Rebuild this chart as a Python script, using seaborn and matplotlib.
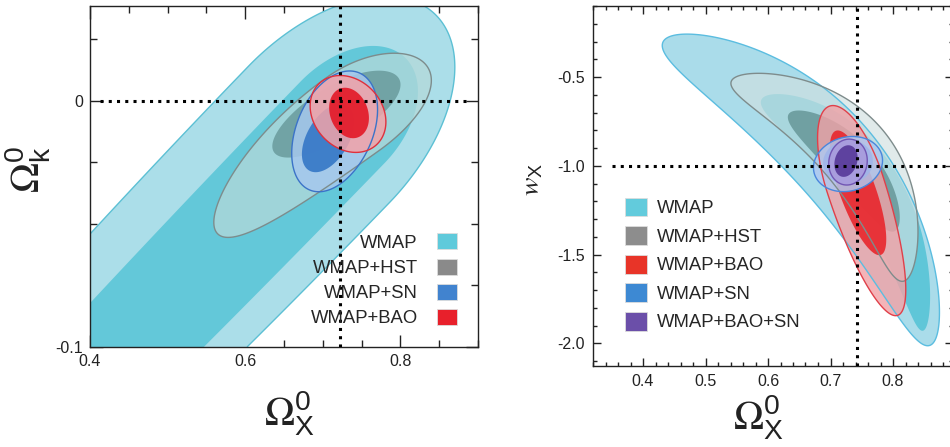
import numpy as np
import matplotlib
matplotlib.use("Agg")
import matplotlib.pyplot as plt
import seaborn as sns
from matplotlib.patches import Patch
from matplotlib.ticker import MultipleLocator, FixedLocator, FormatStrFormatter

# ---------------- left panel: Omega_k vs Omega_X ----------------
left_names = ["WMAP", "WMAP+HST", "WMAP+SN", "WMAP+BAO"]
# 95% regions: centre, far tip (data), back length / width / bend as ratios of centre->tip
left_cx95 = [0.6951, 0.7389, 0.7157, 0.7325]
left_cy95 = [-0.01358, -0.00528, -0.01179, -0.00528]
left_tx95 = [0.8447, 0.8312, 0.7469, 0.7693]
left_ty95 = [0.03524, 0.01549, 0.01142, -0.01776]
left_back95 = [6.0, 2.045, 1.05, 1.0]
left_width95 = [0.587, 0.511, 0.613, 0.81]
left_bend95 = [0.0, 0.0466, 0.0, 0.0]
# 68% regions
left_cx68 = [0.7254, 0.7247, 0.7067, 0.7338]
left_cy68 = [-0.00870, -0.00366, -0.01504, -0.00488]
left_tx68 = [0.8061, 0.7973, 0.7309, 0.7452]
left_ty68 = [0.01760, 0.00955, -0.00179, -0.0148]
left_back68 = [11.1, 1.23, 1.0, 1.0]
left_width68 = [0.65, 0.415, 0.556, 0.73]
left_bend68 = [0.0, 0.02, 0.0, 0.0]
left_ref_x = 0.722
left_ref_y = 0.0
left_hline_span = [0.413, 0.886]
left_xticks = [0.4, 0.6, 0.8]
left_yticks = [-0.1, 0.0]
left_yticklabels = ["-0.1", "0"]

# ---------------- right panel: w_X vs Omega_X ----------------
right_names = ["WMAP", "WMAP+HST", "WMAP+BAO", "WMAP+SN", "WMAP+BAO+SN"]
right_cx95 = [0.6928, 0.7392, 0.7392, 0.7280, 0.7280]
right_cy95 = [-0.9059, -0.9285, -1.1031, -0.9904, -0.9792]
right_tx95 = [0.9274, 0.8730, 0.8074, 0.7821, 0.7344]
right_ty95 = [-1.7915, -1.4896, -1.8428, -0.9392, -0.8513]
right_back95 = [0.884, 1.04, 0.594, 1.0, 1.0]
right_width95 = [0.2047, 0.277, 0.21, 0.77, 0.83]
right_bend95 = [0.256, 0.322, 0.0, 0.0, 0.0]
right_cx68 = [0.7328, 0.7360, 0.7424, 0.7280, 0.7248]
right_cy68 = [-0.9623, -0.9904, -1.1313, -0.9792, -0.9735]
right_tx68 = [0.9238, 0.8195, 0.7806, 0.7674, 0.7321]
right_ty68 = [-1.6828, -1.3172, -1.5020, -0.9549, -0.8862]
right_back68 = [0.6, 1.03, 0.886, 1.0, 1.0]
right_width68 = [0.16, 0.282, 0.257, 0.88, 0.69]
right_bend68 = [0.36, 0.156, 0.0, 0.0, 0.0]
right_ref_x = 0.742
right_ref_y = -1.0
right_hline_span = [0.35, 0.896]

# colours
left_fill95 = ["#abdee9", "#b4d9d9", "#a6c8ee", "#f2a3a8"]
left_alpha95 = [1.0, 0.75, 0.85, 0.85]
left_fill68 = ["#63c8d9", "#6c9ea0", "#3a7bc8", "#e31e2c"]
left_alpha68 = [1.0, 0.9, 0.95, 0.95]
left_edge = ["#5cc0d4", "#7d8c8c", "#3b73c8", "#e0303c"]
left_legend_colors = ["#5fcadb", "#8a8a8a", "#4183cf", "#e8202b"]

right_fill95 = ["#aadcea", "#d0e0e0", "#f2a2a6", "#afc8f0", "#a99bdc"]
right_alpha95 = [1.0, 0.65, 0.8, 0.85, 0.9]
right_fill68 = ["#5fc6d8", "#6a9a9c", "#e8262c", "#9fb5ea", "#5a3d9c"]
right_alpha68 = [1.0, 0.9, 0.9, 0.85, 0.95]
right_edge = ["#5bbde0", "#7e8c8c", "#e0404a", "#4a86dc", "#7256b4"]
right_legend_colors = ["#62cbdc", "#8d8d8d", "#e83428", "#3d89d3", "#6b4fa9"]


def region(ax, cx, cy, tx, ty, back, width, bend, fill, alpha, edge=None):
    # filled confidence region: half-ellipses joined at the centre, optionally bent
    x0, x1 = ax.get_xlim()
    y0, y1 = ax.get_ylim()
    X, Y = np.meshgrid(np.linspace(x0, x1, 700), np.linspace(y0, y1, 700))
    pts = ax.transData.transform(np.column_stack([X.ravel(), Y.ravel()]))
    c = ax.transData.transform((cx, cy))
    t = ax.transData.transform((tx, ty))
    d = t - c
    L = np.hypot(d[0], d[1])
    u = d / L
    n = np.array([-u[1], u[0]])
    rel = pts - c
    p = rel @ u
    q = rel @ n + bend * p ** 2 / L
    a = np.where(p >= 0, L, back * L)
    r = ((p / a) ** 2 + (q / (width * L)) ** 2).reshape(X.shape)
    ax.contourf(X, Y, r, levels=[0, 1], colors=[fill], alpha=alpha, antialiased=True)
    if edge is not None:
        ax.contour(X, Y, r, levels=[1], colors=[edge], linewidths=1.0)


sns.set_theme(style="ticks")
plt.rcParams["font.family"] = ["Liberation Sans", "DejaVu Sans"]
plt.rcParams["mathtext.fontset"] = "stix"
plt.rcParams["axes.unicode_minus"] = False

fig = plt.figure(figsize=(9.5, 4.47), dpi=100)
axL = fig.add_axes([90 / 950, 100 / 447, 388 / 950, 341 / 447])
axR = fig.add_axes([593 / 950, 81 / 447, 360 / 950, 360 / 447])

axL.set_xlim(0.4, 0.9)
axL.set_ylim(-0.1, 0.0386)
axR.set_xlim(0.32, 0.896)
axR.set_ylim(-2.128, -0.1)

for i in range(len(left_names)):
    region(axL, left_cx95[i], left_cy95[i], left_tx95[i], left_ty95[i], left_back95[i],
           left_width95[i], left_bend95[i], left_fill95[i], left_alpha95[i], left_edge[i])
    region(axL, left_cx68[i], left_cy68[i], left_tx68[i], left_ty68[i], left_back68[i],
           left_width68[i], left_bend68[i], left_fill68[i], left_alpha68[i])

for i in range(len(right_names)):
    region(axR, right_cx95[i], right_cy95[i], right_tx95[i], right_ty95[i], right_back95[i],
           right_width95[i], right_bend95[i], right_fill95[i], right_alpha95[i], right_edge[i])
    region(axR, right_cx68[i], right_cy68[i], right_tx68[i], right_ty68[i], right_back68[i],
           right_width68[i], right_bend68[i], right_fill68[i], right_alpha68[i])

dots = dict(color="black", lw=2.2, linestyle=(0, (1, 1.7)), dash_capstyle="butt", zorder=5)
axL.axvline(left_ref_x, **dots)
axL.plot(left_hline_span, [left_ref_y, left_ref_y], **dots)
axR.axvline(right_ref_x, **dots)
axR.plot(right_hline_span, [right_ref_y, right_ref_y], **dots)

# ticks
axL.xaxis.set_major_locator(FixedLocator(left_xticks))
axL.xaxis.set_minor_locator(MultipleLocator(0.05))
axL.yaxis.set_major_locator(FixedLocator(left_yticks))
axL.yaxis.set_minor_locator(MultipleLocator(0.025))
axL.set_xticklabels([f"{v:.1f}" for v in left_xticks])
axL.set_yticklabels(left_yticklabels)
axL.tick_params(which="both", direction="in", top=True, right=True, width=1.0, color="#222222",
                labelsize=11.5, labelcolor="#222222")
axL.tick_params(which="major", length=9, pad=5)
axL.tick_params(which="minor", length=5)

axR.xaxis.set_major_locator(MultipleLocator(0.1))
axR.xaxis.set_minor_locator(MultipleLocator(0.02))
axR.yaxis.set_major_locator(MultipleLocator(0.5))
axR.yaxis.set_minor_locator(MultipleLocator(0.1))
axR.xaxis.set_major_formatter(FormatStrFormatter("%.1f"))
axR.yaxis.set_major_formatter(FormatStrFormatter("%.1f"))
axR.tick_params(which="both", direction="in", top=True, right=True, width=1.0, color="#222222",
                labelsize=11.5, labelcolor="#222222")
axR.tick_params(which="major", length=5.5, pad=6)
axR.tick_params(which="minor", length=3)

for ax in (axL, axR):
    for s in ax.spines.values():
        s.set_linewidth(1.0)
        s.set_color("#222222")

# axis labels
axL.set_xlabel(r"$\Omega^{\mathregular{0}}_{\mathregular{X}}$", fontsize=29, color="#222222")
axL.set_ylabel(r"$\Omega^{\mathregular{0}}_{\mathregular{k}}$", fontsize=29, color="#222222")
axR.set_xlabel(r"$\Omega^{\mathregular{0}}_{\mathregular{X}}$", fontsize=29, color="#222222")
axR.set_ylabel(r"$w_{\mathregular{X}}$", fontsize=20, color="#222222")
axL.xaxis.set_label_coords(0.515, -0.125)
axL.yaxis.set_label_coords(-0.095, 0.52)
axR.xaxis.set_label_coords(0.46, -0.075)
axR.yaxis.set_label_coords(-0.133, 0.517)

# legends
hL = [Patch(facecolor=c, edgecolor="#dddddd", linewidth=0.6) for c in left_legend_colors]
axL.legend(hL, left_names, loc="upper right", bbox_to_anchor=(0.946, 0.333), markerfirst=False,
           frameon=False, fontsize=13.3, handlelength=1.08, handleheight=0.95, handletextpad=1.05,
           labelspacing=0.37, borderpad=0, borderaxespad=0)
hR = [Patch(facecolor=c, edgecolor="#dddddd", linewidth=0.6) for c in right_legend_colors]
axR.legend(hR, right_names, loc="upper left", bbox_to_anchor=(0.089, 0.468),
           frameon=False, fontsize=13.3, handlelength=1.2, handleheight=1.2, handletextpad=0.55,
           labelspacing=0.48, borderpad=0, borderaxespad=0)

fig.savefig("out.png", dpi=100)
